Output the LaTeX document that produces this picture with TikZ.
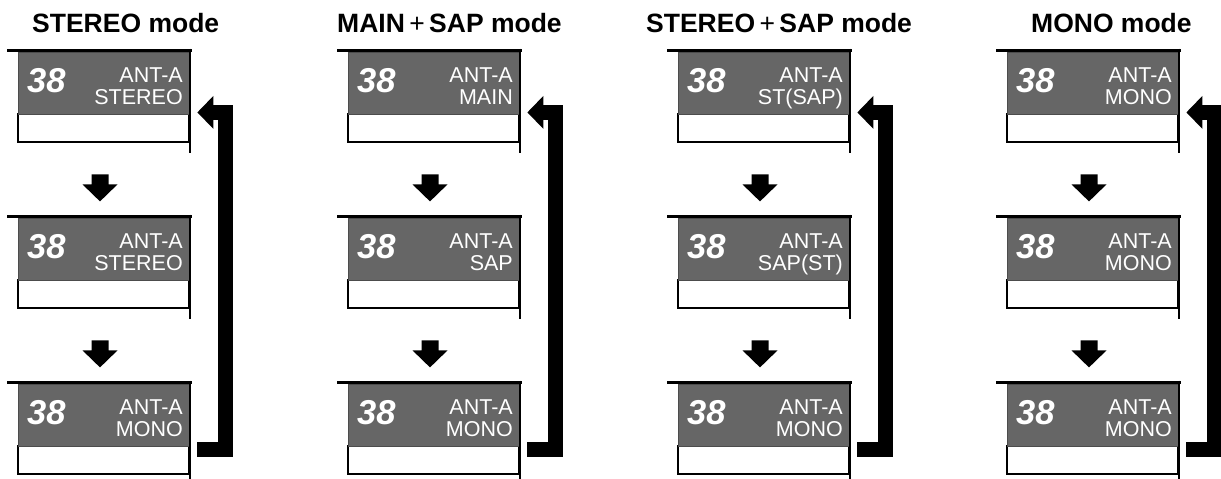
\documentclass[tikz,border=0pt]{standalone}
\usepackage{fontspec}
\setmainfont{Liberation Sans}
\usetikzlibrary{calc}
\definecolor{screengray}{HTML}{666666}
\tikzset{
 screen/.style={fill=screengray, draw=black!70, line width=0.8pt, minimum width=171pt, minimum height=62pt, inner sep=0pt},
 lowerbox/.style={draw=black, line width=1.2pt, fill=white},
 topbar/.style={line width=3pt},
 sidebar/.style={line width=2.8pt},
 numtext/.style={text=white, font=\bfseries\itshape\fontsize{34.5}{36}\selectfont, inner sep=0pt, anchor=base west},
 lbltext/.style={text=white, font=\fontsize{21.5}{22}\selectfont, inner sep=0pt, anchor=base east},
 titletext/.style={font=\bfseries\fontsize{26.5}{30}\selectfont, inner sep=0pt, anchor=base west},
 loopline/.style={line width=15pt},
 darrow/.pic={\fill (-8.5,0) -- (8.5,0) -- (8.5,10) -- (17.5,10) -- (0,27) -- (-17.5,10) -- (-8.5,10) -- cycle;}
}
\newcommand\tvpanel[4]{%
 \draw[lowerbox] (#2+11,#3+64) rectangle (#2+182,#3+92);
 \node[screen] (#1) at (#2+96.5,#3+33) {};
 \draw[topbar] (#2,#3) -- (#2+184.5,#3);
 \draw[sidebar] (#2+183,#3-1.4) -- (#2+183,#3+103);
 \node[numtext] (#1n) at (#2+20,#3+42) {38};
 \node[lbltext] (#1t) at (#2+176,#3+32) {ANT-A};
 \node[lbltext] (#1m) at (#2+176,#3+54) {#4};
}
\newcommand\tvcolumn[1]{%
 \pic at ([xshift=-3.5pt,yshift=-60pt]#1a.south) {darrow};
 \pic at ([xshift=-3.5pt,yshift=-60pt]#1b.south) {darrow};
 \coordinate (#1lb) at ([xshift=8pt,yshift=-3pt]#1c.south east);
 \coordinate (#1lt) at ([xshift=8pt,yshift=2pt]#1a.south east);
 \draw[loopline] (#1lb) -- ++(28.5,0) |- ([xshift=16pt]#1lt);
 \fill (#1lt) -- ++(16,-16.5) -- ++(0,33) -- cycle;
}
\begin{document}
\begin{tikzpicture}[x=1pt,y=-1pt]
\useasboundingbox (0,0) rectangle (1221,479);
\node[titletext] (t1) at (32,32) {STEREO mode};
\node[titletext] (t2) at (337,32) {MAIN\,{\mdseries+}\,SAP mode};
\node[titletext] (t3) at (646,32) {STEREO\,{\mdseries+}\,SAP mode};
\node[titletext] (t4) at (1031,32) {MONO mode};
\tvpanel{pa}{7}{50}{STEREO}
\tvpanel{pb}{7}{216}{STEREO}
\tvpanel{pc}{7}{382}{MONO}
\tvcolumn{p}
\tvpanel{qa}{337}{50}{MAIN}
\tvpanel{qb}{337}{216}{SAP}
\tvpanel{qc}{337}{382}{MONO}
\tvcolumn{q}
\tvpanel{ra}{667}{50}{ST(SAP)}
\tvpanel{rb}{667}{216}{SAP(ST)}
\tvpanel{rc}{667}{382}{MONO}
\tvcolumn{r}
\tvpanel{sa}{996}{50}{MONO}
\tvpanel{sb}{996}{216}{MONO}
\tvpanel{sc}{996}{382}{MONO}
\tvcolumn{s}
\end{tikzpicture}
\end{document}
